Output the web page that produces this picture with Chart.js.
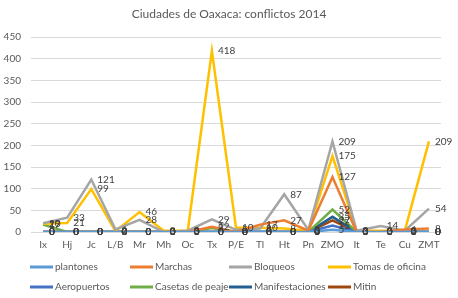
<!DOCTYPE html>
<html>
<head>
<meta charset="utf-8">
<script src="https://cdn.jsdelivr.net/npm/chart.js@4"></script>
<style>
html,body{margin:0;padding:0;background:#fff;}
#wrap{position:relative;width:458px;height:298px;}
</style>
</head>
<body>
<div id="wrap"><canvas id="c" width="458" height="298"></canvas></div>
<script>
const categories = ['Ix','Hj','Jc','L/B','Mr','Mh','Oc','Tx','P/E','Tl','Ht','Pn','ZMO','It','Te','Cu','ZMT'];
const plantones       = [0,0,0,0,0,0,0,0,0,0,0,0,5,0,0,0,0];
const marchas         = [0,0,0,0,0,0,0,12,0,17,27,3,127,0,0,6,8];
const bloqueos        = [20,33,121,6,28,0,3,29,5,8,87,5,209,3,14,3,54];
const tomas           = [19,21,99,2,46,3,3,418,10,10,8,3,175,3,3,3,209];
const aeropuertos     = [0,0,0,0,0,0,0,0,0,0,0,0,15,0,0,0,0];
const casetas         = [17,0,0,0,0,0,0,9,0,0,0,0,52,0,0,0,0];
const manifestaciones = [0,0,0,0,0,0,0,0,0,0,0,0,35,0,0,0,0];
const mitin           = [0,0,0,0,0,0,0,0,0,0,0,0,27,0,0,0,0];
const yTicks = [0,50,100,150,200,250,300,350,400,450];
const titleText = 'Ciudades de Oaxaca: conflictos 2014';

const FONT = 'Lato, "Noto Sans", sans-serif';
const series = [
  ['plantones', plantones, '#5B9BD5'],
  ['Marchas', marchas, '#ED7D31'],
  ['Bloqueos', bloqueos, '#A5A5A5'],
  ['Tomas de oficina', tomas, '#FFC000'],
  ['Aeropuertos', aeropuertos, '#4472C4'],
  ['Casetas de peaje', casetas, '#70AD47'],
  ['Manifestaciones', manifestaciones, '#255E91'],
  ['Mitin', mitin, '#9E480E']
];

const extras = {
  id: 'extras',
  afterDatasetsDraw(chart) {
    const ctx = chart.ctx;
    ctx.save();
    ctx.font = '10px ' + FONT;
    ctx.fillStyle = '#404040';
    ctx.textAlign = 'left';
    ctx.textBaseline = 'middle';
    chart.data.datasets.forEach((ds, i) => {
      const meta = chart.getDatasetMeta(i);
      meta.data.forEach((pt, j) => {
        ctx.fillText(String(ds.data[j]), pt.x + 6, pt.y);
      });
    });
    ctx.restore();
  },
  afterDraw(chart) {
    const ctx = chart.ctx;
    ctx.save();
    ctx.font = '12px ' + FONT;
    ctx.fillStyle = '#595959';
    ctx.textAlign = 'center';
    ctx.textBaseline = 'middle';
    ctx.fillText(titleText, 229, 14);
    ctx.font = '10px ' + FONT;
    ctx.textAlign = 'left';
    const cols = [30, 130, 229, 328];
    const rows = [267, 287];
    chart.data.datasets.forEach((ds, i) => {
      const x = cols[i % 4], y = rows[Math.floor(i / 4)];
      ctx.strokeStyle = ds.borderColor;
      ctx.lineWidth = 3;
      ctx.beginPath();
      ctx.moveTo(x, y);
      ctx.lineTo(x + 23, y);
      ctx.stroke();
      ctx.fillStyle = '#595959';
      ctx.fillText(ds.label, x + 25, y);
    });
    ctx.restore();
  }
};

new Chart(document.getElementById('c'), {
  type: 'line',
  data: {
    labels: categories,
    datasets: series.map(s => ({
      label: s[0], data: s[1], borderColor: s[2], backgroundColor: s[2],
      borderWidth: 2.5, pointRadius: 0, tension: 0, fill: false
    }))
  },
  options: {
    responsive: false,
    animation: false,
    layout: { padding: { top: 37, right: 17, bottom: 46, left: 0 } },
    plugins: { legend: { display: false }, title: { display: false }, tooltip: { enabled: false } },
    scales: {
      x: {
        offset: true,
        grid: { display: false, drawTicks: false },
        border: { display: true, color: '#D9D9D9' },
        ticks: { color: '#595959', font: { size: 10, family: FONT }, padding: 7, maxRotation: 0, autoSkip: false },
        afterFit(s) { s.height = 20; }
      },
      y: {
        min: 0, max: 450,
        afterBuildTicks(s) { s.ticks = yTicks.map(v => ({ value: v })); },
        grid: { color: '#D9D9D9', drawTicks: false },
        border: { display: false },
        ticks: { color: '#595959', font: { size: 10, family: FONT }, padding: 10 },
        afterFit(s) { s.width = 31; }
      }
    }
  },
  plugins: [extras]
});
</script>
</body>
</html>
